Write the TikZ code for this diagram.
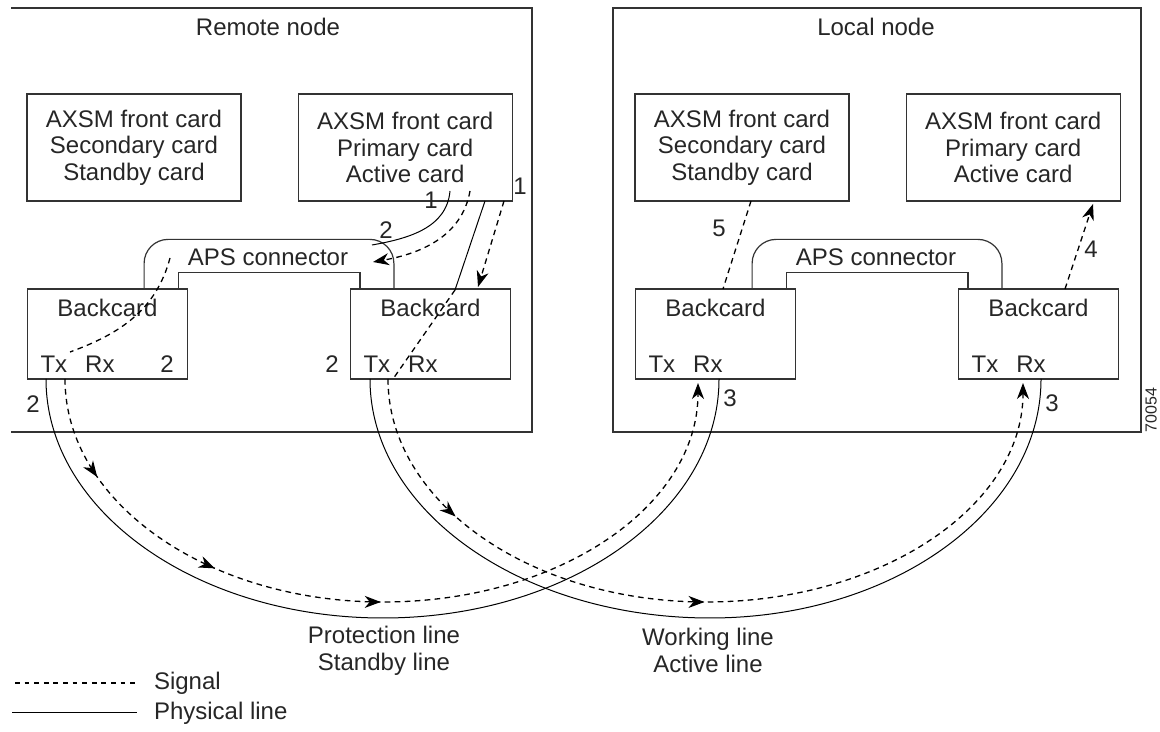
\documentclass[tikz,border=0pt]{standalone}
\usepackage{fontspec}
\setmainfont{Liberation Sans}
\usetikzlibrary{arrows.meta,decorations.markings}
\usetikzlibrary{positioning}
\tikzset{
    card/.style={
           rectangle,
           draw=black!80, line width=0.6pt,
           minimum width=107pt, minimum height=53.5pt,
           inner sep=0pt,
           align=center,
           },
}
\tikzset{
    back/.style={
           rectangle,
           draw=black!80, line width=0.6pt,
           minimum width=80pt, minimum height=45pt,
           inner sep=0pt,
           },
}
\tikzset{
    frame/.style={draw=black!80, line width=0.6pt},
    sig/.style={dash pattern=on 2.8pt off 2.2pt, line width=0.65pt},
    phys/.style={line width=0.5pt},
    tip/.style={-{Stealth[length=8pt,width=6pt,inset=2.5pt]}},
    arrowat/.style={postaction={decorate,decoration={markings,
           mark=at position #1 with {\arrow{Stealth[length=8pt,width=6pt,inset=2.5pt]}}}}},
}

\begin{document}
\begin{tikzpicture}[x=0.5pt,y=0.5pt,font=\fontsize{12}{13.3}\selectfont,text=black!85]
\useasboundingbox (0,0) rectangle (1160,732);
\draw[frame] (11,724) -- (532,724) -- (532,300) -- (11,300);
\draw[frame] (613,300) rectangle (1141,724);
\node (remote) at (268,705) {Remote node};
\node (local) at (876,705) {Local node};
\node[card] (rsec) at (134,584.5) {AXSM front card\\Secondary card\\Standby card};
\node[card, right=28pt of rsec] (rpri) {AXSM front card\\Primary card\\Active card};
\node[card] (lsec) at (742,584.5) {AXSM front card\\Secondary card\\Standby card};
\node[card, right=28pt of lsec] (lpri) {AXSM front card\\Primary card\\Active card};
\node[back] (rbl) at (107.5,398) {};
\node[back] (rbr) at (430.5,398) {};
\node[back] (lbl) at (715.5,398) {};
\node[back] (lbr) at (1038.5,398) {};
\foreach \b in {rbl,rbr,lbl,lbr}{
  \node (\b name) at ([yshift=-10pt]\b.north) {Backcard};
  \node (\b tx) at ([xshift=13.5pt,yshift=7.5pt]\b.south west) {Tx};
  \node (\b rx) at ([xshift=36.5pt,yshift=7.5pt]\b.south west) {Rx};
}
% APS connectors
\draw[frame,rounded corners=12pt] ([xshift=-22pt]rbl.north east) |- ([xshift=22pt,yshift=24.5pt]rbr.north west) -- ([xshift=22pt]rbr.north west);
\draw[frame] ([xshift=-5pt]rbl.north east) |- ([xshift=5pt,yshift=8pt]rbr.north west) -- ([xshift=5pt]rbr.north west);
\draw[frame,rounded corners=12pt] ([xshift=-22pt]lbl.north east) |- ([xshift=22pt,yshift=24.5pt]lbr.north west) -- ([xshift=22pt]lbr.north west);
\draw[frame] ([xshift=-5pt]lbl.north east) |- ([xshift=5pt,yshift=8pt]lbr.north west) -- ([xshift=5pt]lbr.north west);
\node (raps) at (268,475) {APS connector};
\node (laps) at (876,475) {APS connector};
% remote node signals
\coordinate (p1) at (450,541);
\coordinate (p2) at (372,487);
\coordinate (p3) at (470,541);
\coordinate (p4) at (373,470);
\coordinate (p5) at (485,531);
\coordinate (p6) at (455,442);
\coordinate (p7) at (393,353);
\coordinate (p8) at (504,531);
\coordinate (p9) at (478,445);
\coordinate (p10) at (170,474);
\coordinate (p11) at (70,380);
\draw[phys] (p1) to[out=-95,in=10] (p2);
\draw[sig,tip] (p3) to[out=-100,in=10] (p4);
\draw[phys] (p5) -- (p6);
\draw[sig] (p6) -- (p7);
\draw[sig,tip] (p8) -- (p9);
\draw[sig] (p10) to[out=-105,in=20] (p11);
% local node signals
\coordinate (q1) at (751,531);
\coordinate (q2) at (723,443);
\coordinate (q3) at (1065,443);
\coordinate (q4) at (1093,528);
\draw[sig] (q1) -- (q2);
\draw[sig,tip] (q3) -- (q4);
% lines between the nodes
\coordinate (pa) at (46,353);
\coordinate (pb) at (383,114);
\coordinate (pc) at (719,353);
\coordinate (da) at (65,353);
\coordinate (db) at (383,130);
\coordinate (dc) at (698,349);
\draw[phys] (pa) .. controls +(0,-132) and +(-186,0) .. (pb) .. controls +(186,0) and +(0,-132) .. (pc);
\draw[sig,tip,arrowat=0.123,arrowat=0.3,arrowat=0.5] (da) .. controls +(0,-123) and +(-176,0) .. (db) .. controls +(176,0) and +(0,-123) .. (dc);
\coordinate (wa) at (370,353);
\coordinate (wb) at (710,114);
\coordinate (wc) at (1041,353);
\coordinate (xa) at (388,353);
\coordinate (xb) at (706,130);
\coordinate (xc) at (1023,349);
\draw[phys] (wa) .. controls +(0,-132) and +(-188,0) .. (wb) .. controls +(183,0) and +(0,-132) .. (wc);
\draw[sig,tip,arrowat=0.185,arrowat=0.5] (xa) .. controls +(0,-123) and +(-176,0) .. (xb) .. controls +(176,0) and +(0,-123) .. (xc);
\node[align=center] (prot) at (384,81.5) {Protection line\\Standby line};
\node[align=center] (work) at (708,81.5) {Working line\\Active line};
% step numbers
\node (n1a) at (431,532) {1};
\node (n1b) at (520,546) {1};
\node (n2a) at (386,502) {2};
\node (n2b) at (33,328) {2};
\node (n2c) at (167,368) {2};
\node (n2d) at (332,368) {2};
\node (n5) at (719,504) {5};
\node (n4) at (1091,483) {4};
\node (n3a) at (730,334) {3};
\node (n3b) at (1052,329) {3};
% legend
\coordinate (ls1) at (15,49);
\coordinate (ls2) at (137,49);
\coordinate (lp1) at (12,19);
\coordinate (lp2) at (137,19);
\draw[sig,dash pattern=on 2.4pt off 2.4pt] (ls1) -- (ls2);
\draw[phys] (lp1) -- (lp2);
\node[right] (sigtxt) at (147,49) {Signal};
\node[right] (phystxt) at (147,19) {Physical line};
\node[rotate=90,font=\fontsize{8}{9}\selectfont] (fignum) at (1151,322) {70054};
\end{tikzpicture}
\end{document}
